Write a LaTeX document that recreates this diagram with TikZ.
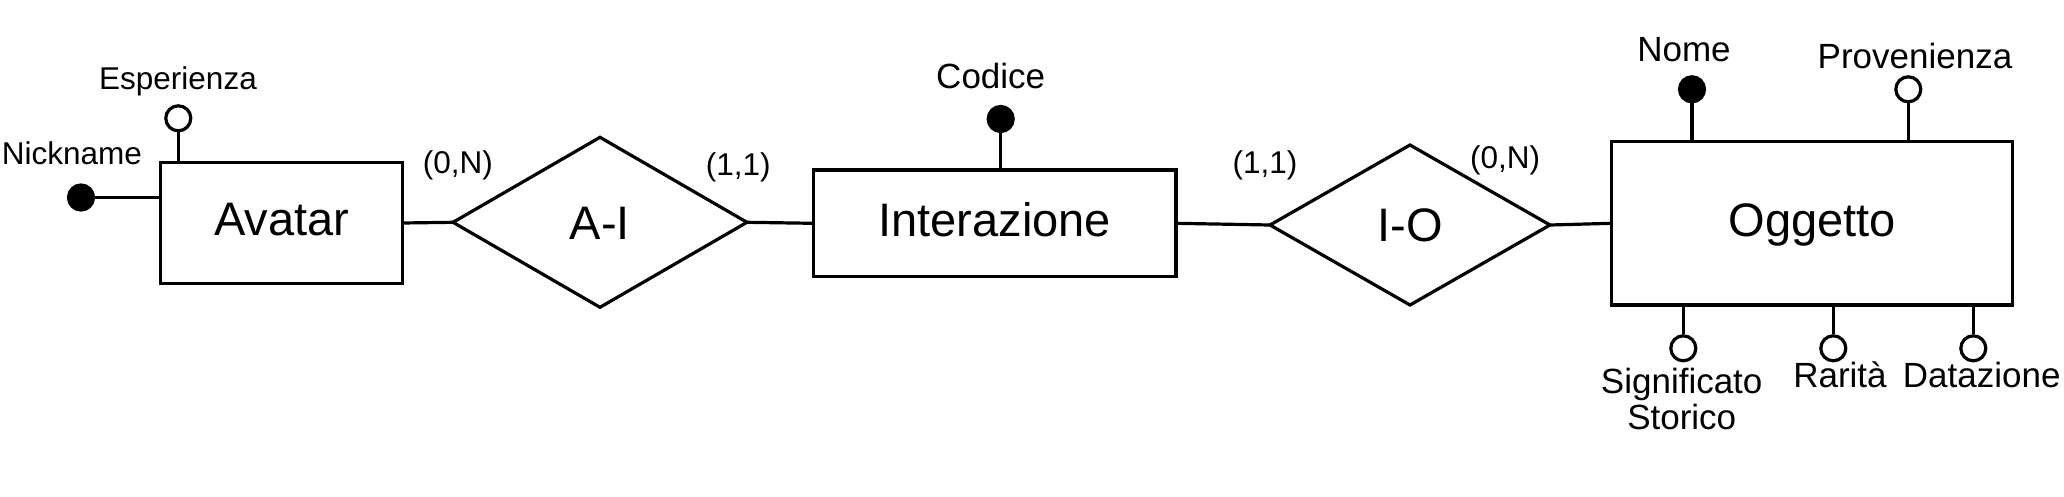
\documentclass[tikz,border=0pt]{standalone}
\usepackage{fontspec}
\setmainfont{Liberation Sans}
\usetikzlibrary{shapes.geometric}
\tikzset{
  ln/.style={line width=3.2pt, line cap=butt},
  entity/.style={draw, ln, rectangle, inner sep=0pt, outer sep=0pt, font=\fontsize{47}{56}\selectfont, text height=33.8pt, text depth=8pt},
  rel/.style={draw, ln, diamond, inner sep=0pt, outer sep=0pt, font=\fontsize{47}{56}\selectfont, text height=33.8pt, text depth=0pt},
  keyattr/.style={draw, ln, circle, fill=black, minimum size=25pt, inner sep=0pt},
  attr/.style={draw, ln, circle, fill=white, minimum size=25pt, inner sep=0pt},
  lblA/.style={inner sep=0pt, font=\fontsize{31.5}{37}\selectfont, text height=22.7pt, text depth=0pt},
  lblB/.style={inner sep=0pt, font=\fontsize{35}{36.7}\selectfont, text height=25.2pt, text depth=0pt},
}
\begin{document}
\begin{tikzpicture}[x=1pt, y=-1pt]
\useasboundingbox (0,0) rectangle (2064,496);
\fill[white] (0,0) rectangle (2064,496);

% entities and relationships
\node[entity, minimum width=241.6pt, minimum height=120.6pt] (av) at (281.5,223) {Avatar};
\node[rel, minimum width=294pt, minimum height=170pt] (ai) at (600,222.3) {A-I};
\node[entity, minimum width=362.7pt, minimum height=106.7pt] (int) at (994.7,223.3) {Interazione};
\node[rel, minimum width=280pt, minimum height=160pt] (io) at (1410,225) {I-O};
\node[entity, minimum width=401pt, minimum height=163.3pt] (ogg) at (1812.2,223.3) {Oggetto};

% relationship connectors
\draw[ln] (av.east) -- (ai.west);
\draw[ln] (ai.east) -- (int.west);
\draw[ln] (int.east) -- (io.west);
\draw[ln] (io.east) -- (ogg.west);

% attributes of Avatar
\node[keyattr] (nick) at (81,197.5) {};
\draw[ln] (nick) -- (nick -| av.west);
\node[attr] (esp) at (178.3,118.3) {};
\draw[ln] (esp) -- (esp |- av.north);
\node[lblA] (tnick) at (72,153.5) {Nickname};
\node[lblA] (tesp) at (178,77.8) {Esperienza};

% attribute of Interazione
\node[keyattr] (cod) at (1000.7,119) {};
\draw[ln] (cod) -- (cod |- int.north);
\node[lblB] (tcod) at (990.7,76) {Codice};

% attributes of Oggetto
\node[keyattr] (nome) at (1692,89.3) {};
\draw[ln] (nome) -- (nome |- ogg.north);
\node[attr] (prov) at (1908.3,89.3) {};
\draw[ln] (prov) -- (prov |- ogg.north);
\node[attr] (sig) at (1683.3,348.3) {};
\draw[ln] (sig) -- (sig |- ogg.south);
\node[attr] (rar) at (1833.3,348.3) {};
\draw[ln] (rar) -- (rar |- ogg.south);
\node[attr] (dat) at (1973.3,348.3) {};
\draw[ln] (dat) -- (dat |- ogg.south);

\node[lblB] (tnome) at (1684,49.2) {Nome};
\node[lblB] (tprov) at (1915,55.8) {Provenienza};
\node[inner sep=0pt, font=\fontsize{35}{36.7}\selectfont, align=center, anchor=north] (tsig) at (1681.7,367.5) {Significato\\Storico};
\node[lblB] (trar) at (1840,375) {Rarità};
\node[lblB] (tdat) at (1981.7,375) {Datazione};

% cardinalities
\node[lblA] (c1) at (457.8,162) {(0,N)};
\node[lblA] (c2) at (738.3,164) {(1,1)};
\node[lblA] (c3) at (1265,162) {(1,1)};
\node[lblA] (c4) at (1505,157.5) {(0,N)};
\end{tikzpicture}
\end{document}
